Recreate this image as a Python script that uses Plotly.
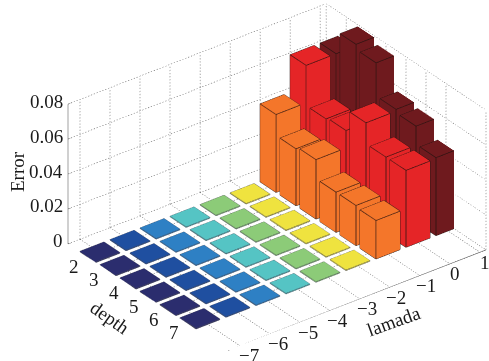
import numpy as np
import plotly.graph_objects as go

lamada = [-7, -6, -5, -4, -3, -2, -1, 0, 1]
depth = [2, 3, 4, 5, 6, 7]
err_tile = [0.0004] * 6
err_m1 = [0.0446, 0.0326, 0.034, 0.023, 0.023, 0.022]
err_0 = [0.066, 0.043, 0.044, 0.056, 0.044, 0.044]
err_1 = [0.066, 0.079, 0.076, 0.057, 0.055, 0.0446]
errors = [err_tile] * 6 + [err_m1, err_0, err_1]
colors = ["#2b2d6e", "#1f4fa0", "#2e80c4", "#55c4c4", "#8ccb78", "#efe33f",
          "#f4762a", "#e52527", "#6f1a1e"]
z_ticks = [0, 0.02, 0.04, 0.06, 0.08]
z_tick_text = ["0", "0.02", "0.04", "0.06", "0.08"]
lam_text = ["\u22127", "\u22126", "\u22125", "\u22124", "\u22123", "\u22122", "\u22121", "0", "1"]
xlim = (-7.4, 1.2)
ylim = (1.0, 9.0)
zlim = (0.0, 0.08)
W = 0.4
FONT = "Liberation Serif"

# view
AZ = np.radians(232.6)
EL = np.radians(30.6)
DIST = 3.0
PX_RIGHT, PX_UP = 32.5, 3.5
S_N = 180.5
e = np.array([np.cos(EL)*np.cos(AZ), np.cos(EL)*np.sin(AZ), np.sin(EL)])
r = np.array([-np.sin(AZ), np.cos(AZ), 0])
u = np.array([-np.sin(EL)*np.cos(AZ), -np.sin(EL)*np.sin(AZ), np.cos(EL)])
c = -(PX_RIGHT*r + PX_UP*u)/S_N
eye = c + DIST*e

# approximate on-screen pixels per data unit, for spacing the dots of the grid
PX_PER = np.array([37.8, 32.9, 2033.0])

fig = go.Figure()

def seg_trace(segs, color, width):
    xs, ys, zs = [], [], []
    for a, b in segs:
        xs += [a[0], b[0], None]; ys += [a[1], b[1], None]; zs += [a[2], b[2], None]
    return go.Scatter3d(x=xs, y=ys, z=zs, mode="lines", hoverinfo="skip", showlegend=False,
                        line=dict(color=color, width=width))

def dotted(segs, period=3.6, on=1.5):
    out = []
    for a, b in segs:
        a = np.array(a, float); b = np.array(b, float)
        length = np.linalg.norm((b-a)*PX_PER)
        n = int(length/period)
        for i in range(n):
            p = a + (b-a)*(i*period/length)
            q = a + (b-a)*((i*period+on)/length)
            out.append((tuple(p), tuple(q)))
    return out

x0, x1 = xlim; y0, y1 = ylim; z0, z1 = zlim
grid = []
for t in lamada:
    grid += [((t, y0, z0), (t, y1, z0)), ((t, y0, z0), (t, y0, z1))]
for t in depth:
    grid += [((x0, t, z0), (x1, t, z0)), ((x1, t, z0), (x1, t, z1))]
for t in z_ticks:
    grid += [((x0, y0, t), (x1, y0, t)), ((x1, y0, t), (x1, y1, t))]
grid += [((x1, y0, z0), (x1, y0, z1)), ((x1, y1, z0), (x1, y1, z1))]
fig.add_trace(seg_trace(dotted(grid), "#555555", 1))

axes = [((x0, y0, z0), (x0, y1, z0)), ((x0, y1, z0), (x1, y1, z0)), ((x0, y0, z0), (x0, y0, z1))]
for t in lamada:
    axes.append(((t, y1, z0), (t, y1+0.22, z0)))
for t in depth:
    axes.append(((x0, t, z0), (x0-0.22, t, z0)))
for t in z_ticks:
    axes.append(((x0, y0, t), (x0+0.12, y0-0.0, t)))
fig.add_trace(seg_trace(axes, "#444444", 1.2))

for lam, vals, col in zip(lamada, errors, colors):
    X, Y, Z, I, J, K, edges = [], [], [], [], [], [], []
    for d, h in zip(depth, vals):
        n = len(X)
        for zz in (0, h):
            for sx, sy in ((-1, -1), (1, -1), (1, 1), (-1, 1)):
                X.append(lam+sx*W); Y.append(d+sy*W); Z.append(zz)
        faces = [(0,1,2),(0,2,3),(4,5,6),(4,6,7),(0,1,5),(0,5,4),(1,2,6),(1,6,5),(2,3,7),(2,7,6),(3,0,4),(3,4,7)]
        for f in faces:
            I.append(n+f[0]); J.append(n+f[1]); K.append(n+f[2])
        p = [(X[n+q], Y[n+q], Z[n+q]) for q in range(8)]
        for q in range(4):
            edges.append((p[4+q], p[4+(q+1) % 4]))
            edges.append((p[q], p[(q+1) % 4]))
            edges.append((p[q], p[4+q]))
    fig.add_trace(go.Mesh3d(x=X, y=Y, z=Z, i=I, j=J, k=K, color=col, flatshading=True,
                            hoverinfo="skip", showlegend=False,
                            lighting=dict(ambient=1, diffuse=0, specular=0, fresnel=0, roughness=1)))
    tall = max(vals) > 0.01
    fig.add_trace(seg_trace(edges, "#24120f" if tall else "#4a4a55", 1.4 if tall else 1))

ann = []
tf = dict(family=FONT, size=19, color="#1a1a1a")
for t, s in zip(z_ticks, z_tick_text):
    ann.append(dict(x=x0, y=y0, z=t, text=s, showarrow=False, xanchor="right", yanchor="middle", xshift=-3, yshift=3, font=tf))
for t in depth:
    ann.append(dict(x=x0, y=t, z=z0, text=str(t), showarrow=False, xanchor="center", yanchor="middle", xshift=-14, yshift=-9, font=tf))
for t, s in zip(lamada, lam_text):
    ann.append(dict(x=t, y=y1-0.01, z=z0, text=s, showarrow=False, xanchor="center", yanchor="middle",
                    xshift=9-0.5*(t+7), yshift=-10, font=tf))

noaxis = dict(showgrid=False, zeroline=False, showticklabels=False, ticks="", showspikes=False,
              showbackground=False, showline=False, title=dict(text=""))
fig.update_layout(
    width=489, height=361, margin=dict(l=0, r=0, t=0, b=0), paper_bgcolor="white",
    showlegend=False,
    scene=dict(
        domain=dict(x=[0, 1], y=[0, 1]),
        xaxis=dict(noaxis, range=[x0, x1]),
        yaxis=dict(noaxis, range=[y1, y0]),
        zaxis=dict(noaxis, range=[z0, z1]),
        aspectmode="manual", aspectratio=dict(x=1.8, y=1.458, z=0.9),
        camera=dict(eye=dict(x=eye[0], y=eye[1], z=eye[2]), center=dict(x=c[0], y=c[1], z=c[2]),
                    up=dict(x=0, y=0, z=1), projection=dict(type="orthographic")),
        annotations=ann,
    ),
    annotations=[
        dict(x=17, y=172, text="Error", textangle=-90, showarrow=False, xanchor="center", yanchor="middle", font=dict(family=FONT, size=19, color="#1a1a1a")),
        dict(x=110, y=317, text="depth", textangle=35, showarrow=False, xanchor="center", yanchor="middle", font=dict(family=FONT, size=19, color="#1a1a1a")),
        dict(x=393, y=321, text="lamada", textangle=-20, showarrow=False, xanchor="center", yanchor="middle", font=dict(family=FONT, size=19, color="#1a1a1a")),
    ],
)
for a in fig.layout.annotations:
    a.xref = "paper"; a.yref = "paper"; a.x = a.x/489; a.y = 1 - a.y/361
fig.write_html("out.html", config={"displayModeBar": False},
               post_script="document.body.style.margin='0';document.documentElement.style.overflow='hidden';")
